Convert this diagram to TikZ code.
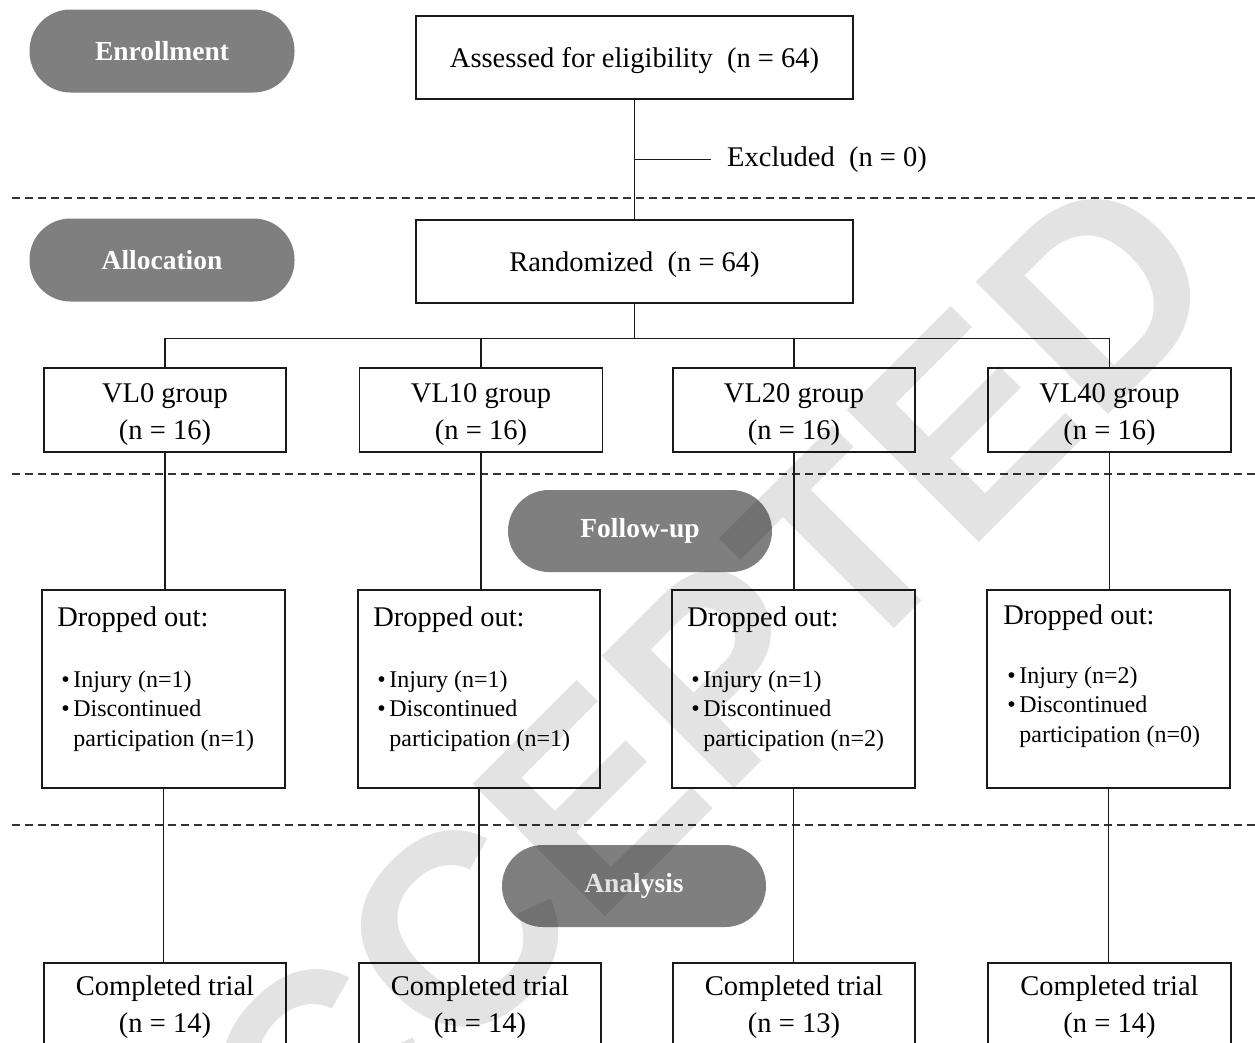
\documentclass[tikz,border=0pt]{standalone}
\usepackage{fontspec}
\setmainfont{Liberation Serif}
\newfontfamily\wmfont{Liberation Sans}
\usetikzlibrary{calc}
\definecolor{pillgray}{HTML}{7F7F7F}
\definecolor{linecol}{HTML}{1A1A1A}
\newcommand{\bul}{\textbullet\hspace{3.6pt}}
\newcommand{\onestrut}{\rule{0pt}{25.5pt}}
\newcommand{\twostrut}{\rule{0pt}{28pt}}
\newcommand{\lowstrut}{\rule{0pt}{23.5pt}}
\begin{document}
\begin{tikzpicture}[x=1pt,y=-1pt,
  box/.style={draw=linecol, line width=1.6pt, fill=white, inner sep=0pt, align=center,
    font=\fontsize{28.5}{37}\selectfont},
  bigbox/.style={box, minimum width=437pt, minimum height=83pt},
  grpbox/.style={box, minimum width=242pt, minimum height=84pt},
  dropbox/.style={box, minimum width=243pt, minimum height=198pt},
  pill/.style={fill=pillgray, rounded corners=41pt, inner sep=0pt, minimum width=265pt,
    minimum height=83pt, text=white, font=\fontsize{27.5}{33}\selectfont\bfseries},
  conn/.style={draw=linecol, line width=1.3pt},
  sepline/.style={draw=black!80, line width=1.3pt, dash pattern=on 8pt off 5pt},
  dtitle/.style={anchor=west, inner sep=0pt, font=\fontsize{28.5}{34}\selectfont},
  dlist/.style={anchor=north west, inner sep=0pt, align=left, font=\fontsize{24}{29.5}\selectfont},
  plain/.style={inner sep=0pt, font=\fontsize{28.5}{34}\selectfont}
]
\useasboundingbox (0,0) rectangle (1255,1042);
\fill[white] (0,0) rectangle (1255,1042);

% separators
\draw[sepline] (12,198) -- (1255,198);
\draw[sepline] (12,474) -- (1255,474);
\draw[sepline] (12,825) -- (1255,825);

% phase pills
\node[pill] (penr) at (162,51) {Enrollment};
\node[pill] (palloc) at (162,260) {Allocation};
\node[pill, minimum width=264pt, minimum height=82pt] (pfol) at (640,531) {Follow-up};
\node[pill, minimum width=264pt, minimum height=82pt] (pana) at (634,886) {Analysis};

% top boxes
\node[bigbox] (assess) at (634.5,57.5) {\onestrut Assessed for eligibility~~(n = 64)};
\node[bigbox] (rand) at (634.5,261.5) {\onestrut Randomized~~(n = 64)};
\node[plain, anchor=west, inner xsep=16pt] (excl) at (711,159.5) {Excluded~~(n = 0)};

% group boxes
\node[grpbox] (g1) at (165,410) {\twostrut VL0 group\\(n = 16)};
\node[grpbox, minimum width=243pt] (g2) at (481,410) {\twostrut VL10 group\\(n = 16)};
\node[grpbox] (g3) at (794,410) {\twostrut VL20 group\\(n = 16)};
\node[grpbox, minimum width=243pt] (g4) at (1109.5,410) {\twostrut VL40 group\\(n = 16)};

% dropped boxes
\node[dropbox] (d1) at (163.5,689) {};
\node[dropbox, minimum width=242pt] (d2) at (479,689) {};
\node[dropbox] (d3) at (793.5,689) {};
\node[dropbox] (d4) at (1108.5,689) {};

\node[dtitle] (d1t) at ($(d1.north west)+(16,30)$) {Dropped out:};
\node[dlist] (d1l) at ($(d1.north west)+(20,81)$) {\bul Injury (n=1)\\\bul Discontinued\\\hphantom{\bul}participation (n=1)};
\node[dtitle] (d2t) at ($(d2.north west)+(16,30)$) {Dropped out:};
\node[dlist] (d2l) at ($(d2.north west)+(20,81)$) {\bul Injury (n=1)\\\bul Discontinued\\\hphantom{\bul}participation (n=1)};
\node[dtitle] (d3t) at ($(d3.north west)+(16,30)$) {Dropped out:};
\node[dlist] (d3l) at ($(d3.north west)+(20,81)$) {\bul Injury (n=1)\\\bul Discontinued\\\hphantom{\bul}participation (n=2)};
\node[dtitle] (d4t) at ($(d4.north west)+(17,28)$) {Dropped out:};
\node[dlist] (d4l) at ($(d4.north west)+(21,77)$) {\bul Injury (n=2)\\\bul Discontinued\\\hphantom{\bul}participation (n=0)};

% completed boxes
\node[grpbox] (c1) at (165,1005) {\lowstrut Completed trial\\(n = 14)};
\node[grpbox] (c2) at (480,1005) {\lowstrut Completed trial\\(n = 14)};
\node[grpbox] (c3) at (794,1005) {\lowstrut Completed trial\\(n = 13)};
\node[grpbox, minimum width=243pt] (c4) at (1109.5,1005) {\lowstrut Completed trial\\(n = 14)};

% connectors
\draw[conn] (assess.south) -- (rand.north);
\draw[conn] (assess.south |- excl.west) -- (excl.west);
\coordinate (hub) at ($(rand.south)+(0,35)$);
\draw[conn] (rand.south) -- (hub);
\draw[conn] (g1.north) |- (hub) -| (g4.north);
\draw[conn] (g2.north) -- (g2.north |- hub);
\draw[conn] (g3.north) -- (g3.north |- hub);
\foreach \i in {1,2,3,4}{
  \draw[conn] (g\i.south) -- (g\i.south |- d\i.north);
  \draw[conn] (d\i.south) -- (d\i.south |- c\i.north);
}

% watermark
\node[inner sep=0pt, rotate=45, text=black, text opacity=0.11,
  font=\wmfont\bfseries\fontsize{272}{272}\selectfont] (wm) at (639,751) {ACCEPTED};
\end{tikzpicture}
\end{document}
